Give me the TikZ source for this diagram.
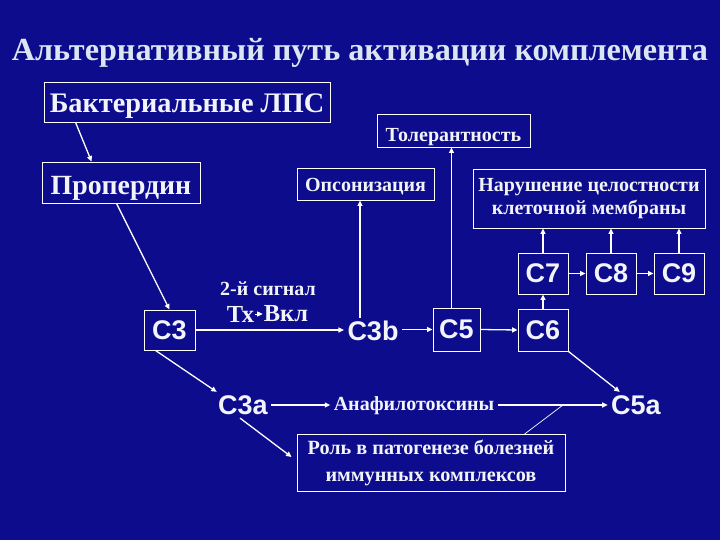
\documentclass[tikz,border=0pt]{standalone}
\usepackage{fontspec}
\setmainfont{Liberation Serif}
\newfontfamily\csans{Liberation Sans}
\usetikzlibrary{arrows.meta,positioning,calc}
\definecolor{bg}{HTML}{0C0C8C}
\definecolor{txt}{HTML}{F2F4FA}
\definecolor{ttl}{HTML}{DCE6F2}
\tikzset{
  conn/.style={-{Triangle[length=5.5pt,width=5pt]}, line width=1.3pt, white},
  plain/.style={line width=0.7pt, white},
  box/.style={draw=white, line width=0.9pt, text=txt, inner sep=0pt, align=center},
  ru/.style={text=txt, font=\bfseries\fontsize{20}{24}\selectfont},
  comp/.style={text=txt, font=\csans\bfseries\fontsize{27}{30}\selectfont},
}

\begin{document}
\begin{tikzpicture}[x=1pt,y=-1pt]

% ===================== background ==========================================
\fill[bg] (0,0) rectangle (720,540);
\useasboundingbox (0,0) rectangle (720,540);

\node[text=ttl, font=\bfseries\fontsize{32.2}{34}\selectfont] (title) at (360,53)
  {Альтернативный путь активации комплемента};

% ===================== boxes ================================================
\node[box, minimum width=286, minimum height=40, text height=25pt, text depth=3pt,
  font=\bfseries\fontsize{28.3}{30}\selectfont] (lps) at (187,102) {Бактериальные ЛПС};
\node[box, minimum width=158, minimum height=41, text height=28pt, text depth=3pt,
  font=\bfseries\fontsize{27.8}{30}\selectfont] (prop) at (121,182.5) {Пропердин};
\node[box, ru, minimum width=153, minimum height=33, text height=25pt, text depth=2pt]
  (tol) at (453.5,130.5) {Толерантность};
\node[box, ru, minimum width=137, minimum height=32, text height=18pt, text depth=2pt]
  (ops) at (365.5,184) {Опсонизация};
\node[box, ru, font=\bfseries\fontsize{20}{23.5}\selectfont, minimum width=232, minimum height=59]
  (nar) at (589,198.5) {Нарушение целостности\\клеточной мембраны};

% ===================== complement components ================================
\node[box, comp, minimum width=51, minimum height=40] (c3) at (169.5,330) {C3};
\node[comp] (c3b) at (373,331) {C3b};
\node[box, comp, minimum width=47, minimum height=43] (c5) at (456.5,329.5) {C5};
\node[box, comp, minimum width=50, minimum height=42] (c6) at (543,330) {C6};
\node[box, comp, minimum width=50, minimum height=41] (c7) at (543,273.5) {C7};
\node[box, comp, minimum width=50, minimum height=41] (c8) at (611,273.5) {C8};
\node[box, comp, minimum width=50, minimum height=41] (c9) at (679,273.5) {C9};

\node[ru] (sig) at (268,289) {2-й сигнал};
\node[ru, font=\bfseries\fontsize{24.5}{26}\selectfont, inner sep=1pt] (tx) at (240.5,314) {Тх};
\node[ru, font=\bfseries\fontsize{24.5}{26}\selectfont, inner sep=1pt] (vkl) at (286,314) {Вкл};

\node[comp] (c3a) at (243,405) {C3a};
\node[ru] (anaf) at (414,406) {Анафилотоксины};
\node[comp] (c5a) at (636,405) {C5a};
\node[box, ru, font=\bfseries\fontsize{20.2}{27}\selectfont, minimum width=268, minimum height=57]
  (role) at (431,463) {Роль в патогенезе болезней\\иммунных комплексов};
\coordinate (jn) at (563,405);

% ===================== connectors ===========================================
\draw[conn] ($(lps.south west)+(32,0)$) -- ($(prop.north west)+(50,0)$);
\draw[conn] ($(prop.south west)+(75,0)$) -- (c3.north);
\draw[conn] (c3.east) -- (c3b.west |- c3.east);
\draw[conn] (c3b.east |- c5.west) -- (c5.west);
\draw[conn] ([xshift=-13pt]c3b.north) -- ([xshift=-13pt]c3b.north |- ops.south);
\draw[conn] ([xshift=-5pt]c5.north) -- ([xshift=-5pt]c5.north |- tol.south);
\draw[conn] (c5.east) -- (c6.west);
\draw[conn] (c6.north) -- (c7.south);
\draw[conn] (c7.east) -- (c8.west);
\draw[conn] (c8.east) -- (c9.west);
\foreach \c in {c7,c8,c9}
  \draw[conn] (\c.north) -- (\c.north |- nar.south);
\draw[conn, line width=0.9pt] (tx.east) -- (vkl.west);
\draw[conn] (c6.south east) -- ([xshift=12pt]c5a.north west);
\draw[conn] ([xshift=-14pt]c3.south) -- ([xshift=2pt]c3a.north west);
\draw[conn] (c3a.east) -- (anaf.west |- c3a.east);
\draw[conn] (anaf.east |- c5a.west) -- (c5a.west);
\draw[conn] ([xshift=-3pt]c3a.south) -- ($(role.west)+(-5,-6)$);
\draw[plain] ($(role.north west)+(228,0)$) -- (jn);

\end{tikzpicture}
\end{document}
